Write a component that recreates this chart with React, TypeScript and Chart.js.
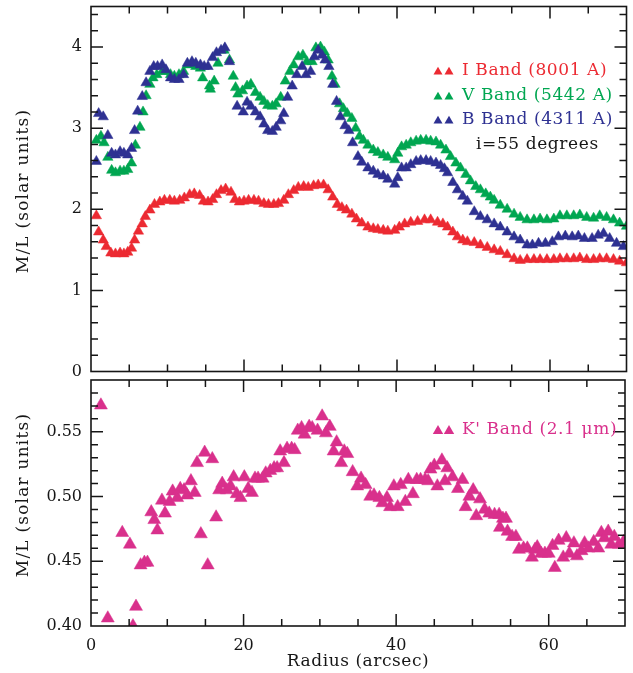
import React, { useEffect, useRef } from "react";
import { Chart, registerables } from "chart.js";

Chart.register(...registerables);

// ---------- Data ----------
// I band (8001 A)
const iRadius = [0.7,1.0,1.6,2.0,2.6,3.2,3.8,4.3,4.8,5.3,5.7,6.2,6.7,7.1,7.7,8.3,9.0,9.6,10.3,10.9,11.6,12.2,12.9,13.5,14.2,14.7,15.3,15.9,16.4,17.0,17.6,18.3,18.8,19.4,20.0,20.6,21.3,21.9,22.6,23.2,23.9,24.5,25.2,25.8,26.5,27.1,27.8,28.4,29.1,29.7,30.4,31.0,31.6,32.2,32.8,33.4,34.1,34.7,35.4,36.2,36.9,37.5,38.2,38.8,39.7,40.3,41.0,41.8,42.7,43.6,44.4,45.3,46.0,46.6,47.3,47.9,48.6,49.2,50.1,50.9,51.8,52.7,53.5,54.4,55.3,56.1,57.0,57.9,58.7,59.6,60.5,61.3,62.2,63.1,63.9,64.8,65.7,66.5,67.4,68.3,69.1,70.0];
const iML = [1.92,1.72,1.62,1.54,1.46,1.45,1.46,1.45,1.47,1.52,1.62,1.73,1.82,1.91,1.99,2.06,2.09,2.11,2.11,2.10,2.11,2.14,2.18,2.19,2.17,2.10,2.09,2.12,2.18,2.23,2.25,2.21,2.12,2.09,2.10,2.11,2.11,2.10,2.07,2.06,2.06,2.07,2.11,2.18,2.23,2.27,2.28,2.27,2.29,2.30,2.30,2.24,2.15,2.06,2.02,1.99,1.94,1.88,1.83,1.78,1.76,1.75,1.74,1.73,1.74,1.78,1.82,1.84,1.85,1.87,1.87,1.84,1.82,1.78,1.72,1.66,1.62,1.60,1.59,1.56,1.53,1.50,1.48,1.44,1.39,1.37,1.38,1.38,1.38,1.38,1.38,1.39,1.39,1.39,1.40,1.38,1.38,1.39,1.39,1.38,1.36,1.34];

// V band (5442 A)
const vRadius = [0.7,1.3,1.7,2.2,2.7,3.2,3.8,4.3,4.8,5.3,5.8,6.4,6.8,7.2,7.7,8.1,8.6,9.3,9.8,10.4,10.9,11.5,12.1,12.6,13.2,13.7,14.3,14.6,15.5,15.6,16.1,16.6,17.4,18.1,18.6,18.9,19.2,19.8,20.4,20.9,21.5,22.1,22.6,23.1,23.7,24.2,24.8,25.4,26.0,26.5,27.1,27.7,28.2,28.9,29.4,30.0,30.5,31.0,31.5,31.9,32.5,33.0,33.5,34.1,34.6,35.1,35.6,36.2,36.9,37.5,38.2,38.8,39.7,40.1,40.6,41.2,41.8,42.5,43.1,43.8,44.4,45.1,45.7,46.4,47.0,47.7,48.3,49.0,49.6,50.3,50.9,51.6,52.2,52.7,53.5,54.4,55.3,56.1,57.0,57.9,58.7,59.6,60.5,61.3,62.2,63.1,63.9,64.8,65.7,66.5,67.4,68.3,69.1,70.0];
const vML = [2.85,2.90,2.82,2.64,2.48,2.45,2.47,2.47,2.49,2.57,2.79,3.01,3.20,3.40,3.54,3.62,3.66,3.70,3.70,3.66,3.64,3.66,3.70,3.78,3.80,3.76,3.74,3.62,3.52,3.48,3.58,3.80,3.96,3.84,3.64,3.50,3.42,3.46,3.52,3.54,3.44,3.38,3.33,3.28,3.27,3.30,3.38,3.58,3.70,3.78,3.88,3.90,3.82,3.82,3.99,4.00,3.94,3.84,3.64,3.54,3.30,3.24,3.18,3.12,3.00,2.90,2.85,2.79,2.73,2.70,2.67,2.64,2.61,2.69,2.77,2.79,2.82,2.84,2.85,2.85,2.84,2.83,2.79,2.73,2.65,2.57,2.51,2.43,2.35,2.28,2.24,2.19,2.15,2.11,2.05,2.00,1.94,1.90,1.87,1.87,1.88,1.87,1.88,1.92,1.92,1.92,1.93,1.90,1.89,1.92,1.90,1.87,1.83,1.79];

// B band (4311 A)
const bRadius = [0.7,1.0,1.6,2.2,2.7,3.2,3.8,4.3,4.8,5.3,5.7,6.1,6.7,7.2,7.7,8.2,8.7,9.3,9.8,10.4,10.9,11.5,12.1,12.6,13.2,13.7,14.3,14.8,15.3,15.9,16.4,17.0,17.5,18.1,19.1,19.9,20.4,20.9,21.5,22.1,22.6,23.1,23.7,24.2,24.8,25.2,25.7,26.3,26.9,27.6,28.1,28.7,29.2,29.7,30.2,30.6,31.1,31.6,32.1,32.6,33.2,33.7,34.2,34.9,35.4,36.2,36.9,37.5,38.2,38.8,39.7,40.1,40.6,41.2,41.8,42.5,43.1,43.8,44.4,45.1,45.7,46.2,46.6,47.3,47.9,48.6,49.2,50.1,50.9,51.8,52.7,53.5,54.4,55.3,56.1,57.0,57.7,58.5,59.4,60.3,61.1,62.0,62.9,63.7,64.5,65.5,66.3,67.0,67.8,68.7,69.6];
const bML = [2.59,3.18,3.14,2.91,2.69,2.67,2.71,2.69,2.67,2.75,2.97,3.21,3.39,3.56,3.70,3.76,3.76,3.78,3.72,3.62,3.60,3.60,3.66,3.80,3.82,3.80,3.78,3.76,3.76,3.87,3.93,3.96,3.99,3.82,3.27,3.20,3.32,3.27,3.20,3.14,3.05,2.97,2.96,3.01,3.09,3.18,3.38,3.52,3.66,3.76,3.66,3.70,3.88,3.96,3.90,3.84,3.76,3.54,3.33,3.14,3.03,2.97,2.82,2.65,2.58,2.51,2.47,2.43,2.41,2.37,2.31,2.39,2.51,2.51,2.55,2.59,2.60,2.60,2.59,2.57,2.54,2.50,2.45,2.33,2.24,2.16,2.10,1.97,1.91,1.87,1.82,1.78,1.72,1.66,1.62,1.56,1.56,1.58,1.58,1.60,1.66,1.67,1.66,1.67,1.64,1.64,1.68,1.70,1.64,1.58,1.54];

// K' band (2.1 um)
const kRadius = [1.3,2.2,4.1,5.1,5.5,5.9,6.5,7.0,7.4,7.9,8.3,8.7,9.3,9.7,10.3,10.7,11.3,11.7,12.2,12.6,13.1,13.6,13.9,14.4,14.9,15.3,15.9,16.4,16.8,17.2,17.8,18.3,18.7,19.1,19.6,20.1,20.6,21.1,21.5,21.9,22.5,22.9,23.5,24.0,24.4,24.8,25.3,25.7,26.3,26.7,27.1,27.6,28.0,28.6,29.0,29.7,30.3,30.8,31.3,31.8,32.2,32.8,33.2,33.6,34.3,34.9,35.4,36.0,36.6,37.1,37.8,38.2,38.8,39.2,39.7,40.2,40.6,41.2,41.6,42.2,42.7,43.2,43.8,44.2,44.5,45.0,45.4,46.0,46.4,46.7,47.4,48.1,48.7,49.1,49.6,50.1,50.5,51.0,51.6,52.2,52.9,53.5,53.6,54.0,54.4,54.6,55.2,55.7,56.1,56.7,57.2,57.8,58.2,58.5,59.0,59.5,60.0,60.5,60.8,61.3,61.9,62.3,62.7,63.3,63.7,64.3,64.7,65.2,65.9,66.5,66.9,67.3,67.8,68.2,68.6,69.2,69.8];
const kML = [0.5705,0.406,0.472,0.463,0.400,0.415,0.447,0.449,0.449,0.488,0.482,0.474,0.497,0.487,0.496,0.504,0.499,0.506,0.505,0.501,0.512,0.503,0.526,0.471,0.534,0.447,0.529,0.484,0.505,0.510,0.505,0.508,0.515,0.502,0.499,0.515,0.506,0.503,0.514,0.514,0.514,0.518,0.520,0.522,0.522,0.535,0.526,0.537,0.537,0.536,0.551,0.553,0.548,0.554,0.553,0.551,0.562,0.549,0.554,0.535,0.542,0.526,0.535,0.533,0.519,0.508,0.514,0.509,0.500,0.501,0.499,0.495,0.499,0.492,0.508,0.492,0.509,0.496,0.513,0.502,0.513,0.513,0.513,0.512,0.521,0.524,0.508,0.528,0.512,0.522,0.515,0.506,0.513,0.492,0.500,0.505,0.485,0.498,0.490,0.487,0.486,0.486,0.476,0.483,0.483,0.473,0.469,0.469,0.459,0.460,0.460,0.453,0.459,0.461,0.456,0.456,0.456,0.462,0.445,0.466,0.453,0.468,0.456,0.464,0.454,0.458,0.464,0.460,0.465,0.460,0.472,0.468,0.473,0.463,0.469,0.463,0.465];

// Axis ranges
const xRange = [0, 70];
const topYRange = [0, 4.5];
const botYRange = [0.4, 0.59];
const xLabelStep = 20;
const topYLabelStep = 1;
const botYLabelStep = 0.05;

// Tick-mark positions (inward ticks on all four sides)
const xMajorTicks = [20, 40, 60];
const xMinorTicks = [5, 10, 15, 25, 30, 35, 45, 50, 55, 65];
const topYMajorTicks = [1, 2, 3, 4];
const topYMinorTicks = [0.2, 0.4, 0.6, 0.8, 1.2, 1.4, 1.6, 1.8, 2.2, 2.4, 2.6, 2.8, 3.2, 3.4, 3.6, 3.8, 4.2, 4.4];
const botYMajorTicks = [0.45, 0.5, 0.55];
const botYMinorTicks = [0.41, 0.42, 0.43, 0.44, 0.46, 0.47, 0.48, 0.49, 0.51, 0.52, 0.53, 0.54, 0.56, 0.57, 0.58];

// Texts
const topLegendLabels = ["I Band (8001 A)", "V Band (5442 A)", "B Band (4311 A)"];
const topNote = "i=55 degrees";
const botLegendLabel = "K' Band (2.1 \u03bcm)";
const yTitle = "M/L (solar units)";
const xTitle = "Radius (arcsec)";

// ---------- Styles ----------
const FONT = "'DejaVu Serif', serif";
const INK = "#161616";
const RED = "#ec2a32";
const GREEN = "#00a651";
const BLUE = "#2e3192";
const MAGENTA = "#d9308c";

Chart.defaults.font.family = FONT;
Chart.defaults.color = INK;

const zip = (xs: number[], ys: number[]) => xs.map((x, i) => ({ x, y: ys[i] }));

function framePlugin(xMaj: number[], xMin: number[], yMaj: number[], yMin: number[]) {
  return {
    id: "frameTicks",
    afterDraw(chart: any) {
      const ctx: CanvasRenderingContext2D = chart.ctx;
      const a = chart.chartArea;
      const xs = chart.scales["x"];
      const ys = chart.scales["y"];
      ctx.save();
      ctx.strokeStyle = INK;
      ctx.lineWidth = 1.5;
      ctx.beginPath();
      const xTick = (v: number, len: number) => {
        const px = xs.getPixelForValue(v);
        ctx.moveTo(px, a.bottom);
        ctx.lineTo(px, a.bottom - len);
        ctx.moveTo(px, a.top);
        ctx.lineTo(px, a.top + len);
      };
      const yTick = (v: number, len: number) => {
        const py = ys.getPixelForValue(v);
        ctx.moveTo(a.left, py);
        ctx.lineTo(a.left + len, py);
        ctx.moveTo(a.right, py);
        ctx.lineTo(a.right - len, py);
      };
      xMaj.forEach((v) => xTick(v, 12));
      xMin.forEach((v) => xTick(v, 7));
      yMaj.forEach((v) => yTick(v, 12));
      yMin.forEach((v) => yTick(v, 7));
      ctx.stroke();
      ctx.lineWidth = 1.6;
      ctx.strokeRect(a.left, a.top, a.right - a.left, a.bottom - a.top);
      ctx.restore();
    },
  };
}

function drawTri(ctx: CanvasRenderingContext2D, x: number, y: number, r: number, color: string) {
  ctx.fillStyle = color;
  ctx.beginPath();
  ctx.moveTo(x, y - r);
  ctx.lineTo(x + r * 0.866, y + r * 0.5);
  ctx.lineTo(x - r * 0.866, y + r * 0.5);
  ctx.closePath();
  ctx.fill();
}

type LegendItem = { text: string; color: string; y: number; marker: boolean; x?: number };

function textPlugin(items: LegendItem[], yTitleY: number, xTitleY: number | null, markerR: number) {
  return {
    id: "texts",
    afterDraw(chart: any) {
      const ctx: CanvasRenderingContext2D = chart.ctx;
      ctx.save();
      ctx.font = `17px ${FONT}`;
      ctx.textBaseline = "middle";
      ctx.textAlign = "left";
      (ctx as any).letterSpacing = "0.6px";
      for (const it of items) {
        if (it.marker) {
          drawTri(ctx, 438, it.y + 1, markerR, it.color);
          drawTri(ctx, 449, it.y + 1, markerR, it.color);
        }
        ctx.fillStyle = it.color;
        ctx.fillText(it.text, it.x ?? 462, it.y);
      }
      ctx.fillStyle = INK;
      (ctx as any).letterSpacing = "1.2px";
      ctx.translate(24, yTitleY);
      ctx.rotate(-Math.PI / 2);
      ctx.textAlign = "center";
      ctx.fillText(yTitle, 0, 0);
      ctx.restore();
      if (xTitleY !== null) {
        ctx.save();
        ctx.font = `17px ${FONT}`;
        ctx.textBaseline = "middle";
        ctx.textAlign = "center";
        (ctx as any).letterSpacing = "0.55px";
        ctx.fillStyle = INK;
        ctx.fillText(xTitle, (chart.chartArea.left + chart.chartArea.right) / 2, xTitleY);
        ctx.restore();
      }
    },
  };
}

const tickFont = { family: FONT, size: 16 };

const fitY = (s: any) => {
  s.width = 91;
  s.paddingTop = 0;
  s.paddingBottom = 0;
};
const fitX = (s: any) => {
  s.height = 47;
  s.paddingLeft = 0;
  s.paddingRight = 0;
};

export default function App() {
  const topRef = useRef<HTMLCanvasElement>(null);
  const botRef = useRef<HTMLCanvasElement>(null);

  useEffect(() => {
    const dsStyle = (color: string, r: number) => ({
      pointStyle: "triangle" as const,
      pointRadius: r,
      pointBackgroundColor: color,
      pointBorderColor: color,
      pointBorderWidth: 0.5,
      backgroundColor: color,
      borderColor: color,
      showLine: false,
    });

    const top = new Chart(topRef.current as HTMLCanvasElement, {
      type: "scatter",
      data: {
        datasets: [
          { label: topLegendLabels[2], data: zip(bRadius, bML), ...dsStyle(BLUE, 6) },
          { label: topLegendLabels[1], data: zip(vRadius, vML), ...dsStyle(GREEN, 6) },
          { label: topLegendLabels[0], data: zip(iRadius, iML), ...dsStyle(RED, 6) },
        ],
      },
      options: {
        animation: false,
        responsive: false,
        maintainAspectRatio: false,
        events: [],
        layout: { padding: { left: 0, top: 5, right: 3, bottom: 1 } },
        plugins: { legend: { display: false }, tooltip: { enabled: false } },
        scales: {
          x: { type: "linear", min: xRange[0], max: xRange[1], display: false },
          y: {
            type: "linear",
            min: topYRange[0],
            max: topYRange[1],
            ticks: { stepSize: topYLabelStep, includeBounds: false, padding: 9, font: tickFont, color: INK },
            grid: { display: false, drawTicks: false },
            border: { display: false },
            afterFit: fitY,
          },
        },
      },
      plugins: [
        framePlugin(xMajorTicks, xMinorTicks, topYMajorTicks, topYMinorTicks),
        textPlugin(
          [
            { text: topLegendLabels[0], color: RED, y: 71, marker: true },
            { text: topLegendLabels[1], color: GREEN, y: 96, marker: true },
            { text: topLegendLabels[2], color: BLUE, y: 120, marker: true },
            { text: topNote, color: INK, y: 145, marker: false, x: 476 },
          ],
          191,
          null,
          5.2
        ),
      ],
    } as any);

    const bot = new Chart(botRef.current as HTMLCanvasElement, {
      type: "scatter",
      data: {
        datasets: [{ label: botLegendLabel, data: zip(kRadius, kML), ...dsStyle(MAGENTA, 7.5) }],
      },
      options: {
        animation: false,
        responsive: false,
        maintainAspectRatio: false,
        events: [],
        layout: { padding: { left: 0, top: 5, right: 3, bottom: 0 } },
        plugins: { legend: { display: false }, tooltip: { enabled: false } },
        scales: {
          x: {
            type: "linear",
            min: xRange[0],
            max: xRange[1],
            ticks: { stepSize: xLabelStep, includeBounds: false, padding: 10, font: tickFont, color: INK, maxRotation: 0 },
            grid: { display: false, drawTicks: false },
            border: { display: false },
            afterFit: fitX,
          },
          y: {
            type: "linear",
            min: botYRange[0],
            max: botYRange[1],
            ticks: { stepSize: botYLabelStep, includeBounds: false, padding: 9, font: tickFont, color: INK },
            grid: { display: false, drawTicks: false },
            border: { display: false },
            afterFit: fitY,
          },
        },
      },
      plugins: [
        framePlugin(xMajorTicks, xMinorTicks, botYMajorTicks, botYMinorTicks),
        textPlugin([{ text: botLegendLabel, color: MAGENTA, y: 430 - 372, marker: true }], 495 - 372, 662 - 372, 6),
      ],
    } as any);

    return () => {
      top.destroy();
      bot.destroy();
    };
  }, []);

  return (
    <div style={{ position: "absolute", left: 0, top: 0, width: 633, height: 673, background: "#fff" }}>
      <canvas
        ref={topRef}
        width={633}
        height={378}
        style={{ position: "absolute", left: 0, top: 0, width: 633, height: 378, display: "block" }}
      />
      <canvas
        ref={botRef}
        width={633}
        height={301}
        style={{ position: "absolute", left: 0, top: 372, width: 633, height: 301, display: "block" }}
      />
    </div>
  );
}
